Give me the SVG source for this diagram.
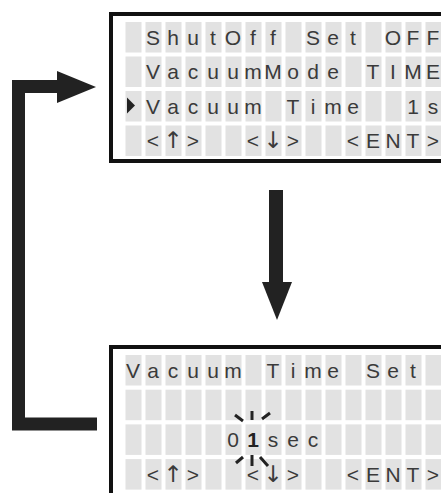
<svg xmlns="http://www.w3.org/2000/svg" width="441" height="493" viewBox="0 0 441 493">
<style>
.frame{fill:#fff;stroke:#111;stroke-width:4}
.cell{fill:#e2e2e2}
.lcd{font-family:"Liberation Sans",Arial,sans-serif;font-size:21px;fill:#3a3a3a;text-anchor:middle;white-space:pre}
.ar{font-family:"DejaVu Sans",sans-serif;font-size:23px}
.bar{fill:none;stroke:#222;stroke-width:13;stroke-linejoin:miter;stroke-linecap:butt}
.head{fill:#222}
.ray{stroke:#222;stroke-width:3;stroke-linecap:butt}
</style>
<defs>
<g id="cellrow">
<rect class="cell" x="125.5" y="0" width="16" height="30.5"/>
<rect class="cell" x="145.5" y="0" width="16" height="30.5"/>
<rect class="cell" x="165.5" y="0" width="16" height="30.5"/>
<rect class="cell" x="185.5" y="0" width="16" height="30.5"/>
<rect class="cell" x="205.5" y="0" width="16" height="30.5"/>
<rect class="cell" x="225.5" y="0" width="16" height="30.5"/>
<rect class="cell" x="245.5" y="0" width="16" height="30.5"/>
<rect class="cell" x="265.5" y="0" width="16" height="30.5"/>
<rect class="cell" x="285.5" y="0" width="16" height="30.5"/>
<rect class="cell" x="305.5" y="0" width="16" height="30.5"/>
<rect class="cell" x="325.5" y="0" width="16" height="30.5"/>
<rect class="cell" x="345.5" y="0" width="16" height="30.5"/>
<rect class="cell" x="365.5" y="0" width="16" height="30.5"/>
<rect class="cell" x="385.5" y="0" width="16" height="30.5"/>
<rect class="cell" x="405.5" y="0" width="16" height="30.5"/>
<rect class="cell" x="425.5" y="0" width="16" height="30.5"/>
</g>
</defs>
<rect width="441" height="493" fill="#fff"/>
<g id="connectors">
<path class="bar" d="M97,424 H18.5 V86.5 H60"/>
<polygon class="head" points="57,71 96,87 57,103"/>
<path class="bar" d="M276,190 V284" style="stroke-width:14"/>
<polygon class="head" points="262,282 292,282 277,320"/>
</g>
<g id="menu-screen">
<rect class="frame" x="111" y="14" width="360" height="147"/>
<use href="#cellrow" y="22"/>
<use href="#cellrow" y="56.5"/>
<use href="#cellrow" y="91"/>
<use href="#cellrow" y="125.5"/>
<polygon points="127,97.5 135,105.5 127,113.5" fill="#222"/>
<text class="lcd" xml:space="preserve" x="153 173 193 213 233 253 273 293 313 333 353 373 393 413 433" y="44.5">ShutOff Set OFF</text>
<text class="lcd" xml:space="preserve" x="153 173 193 213 233 253 273 293 313 333 353 373 393 413 433" y="79">VacuumMode TIME</text>
<text class="lcd" xml:space="preserve" x="153 173 193 213 233 253 273 293 313 333 353 373 393 413 433" y="113.5">Vacuum Time  1s</text>
<text class="lcd" xml:space="preserve" x="153 173 193 213 233 253 273 293 313 333 353 373 393 413 433" y="148">&lt;<tspan class="ar">↑</tspan>&gt;  &lt;<tspan class="ar">↓</tspan>&gt;  &lt;ENT&gt;</text>
</g>
<g id="time-set-screen">
<rect class="frame" x="111" y="347" width="360" height="170"/>
<use href="#cellrow" y="355"/>
<use href="#cellrow" y="389.7"/>
<use href="#cellrow" y="424.4"/>
<use href="#cellrow" y="459.1"/>
<text class="lcd" xml:space="preserve" x="133 153 173 193 213 233 253 273 293 313 333 353 373 393 413" y="377.5">Vacuum Time Set</text>
<text class="lcd" x="233 253 273 293 313" y="447">0<tspan font-weight="bold" fill="#222">1</tspan>sec</text>
<text class="lcd" xml:space="preserve" x="153 173 193 213 233 253 273 293 313 333 353 373 393 413 433" y="482">&lt;<tspan class="ar">↑</tspan>&gt;  &lt;<tspan class="ar">↓</tspan>&gt;  &lt;ENT&gt;</text>
<g class="ray">
<line x1="252" y1="411" x2="252" y2="420"/>
<line x1="235" y1="415" x2="243" y2="421"/>
<line x1="270" y1="413" x2="262" y2="419"/>
<line x1="252" y1="455" x2="252" y2="466"/>
<line x1="236" y1="463" x2="243" y2="457"/>
<line x1="260" y1="457" x2="268" y2="466"/>
</g>
</g>
</svg>
